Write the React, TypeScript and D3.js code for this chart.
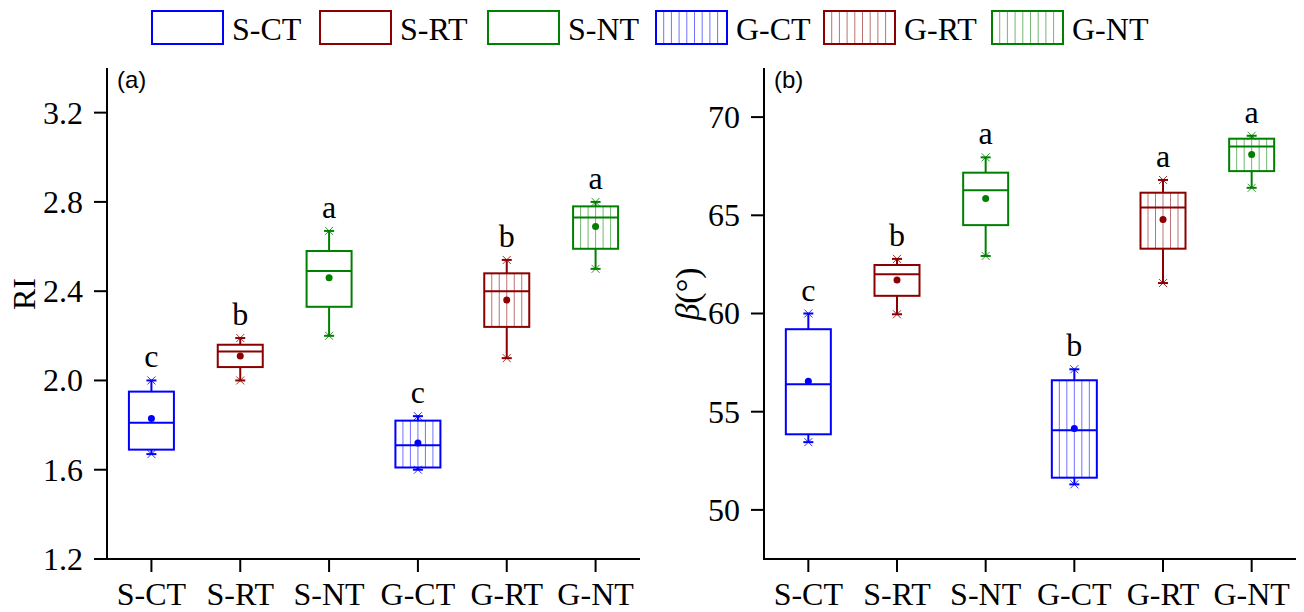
import React from 'react';
import * as d3 from 'd3';

// treatments, shared by both panels
const groups = ['S-CT', 'S-RT', 'S-NT', 'G-CT', 'G-RT', 'G-NT'];
const groupColors = ['#0000FF', '#8B0000', '#008000', '#0000FF', '#8B0000', '#008000'];
const hatched = [false, false, false, true, true, true];

// panel (a): RI  -> [lower whisker, q1, median, q3, upper whisker], mean, letter
const riStats = [
  [1.67, 1.69, 1.81, 1.95, 2.0],
  [2.0, 2.06, 2.13, 2.16, 2.19],
  [2.2, 2.33, 2.49, 2.58, 2.67],
  [1.6, 1.61, 1.71, 1.82, 1.84],
  [2.1, 2.24, 2.4, 2.48, 2.54],
  [2.5, 2.59, 2.73, 2.78, 2.8]
];
const riMeans = [1.83, 2.11, 2.46, 1.72, 2.36, 2.69];
const riLetters = ['c', 'b', 'a', 'c', 'b', 'a'];
const riTicks = [1.2, 1.6, 2.0, 2.4, 2.8, 3.2];

// panel (b): beta (degrees)
const betaStats = [
  [53.45, 53.85, 56.4, 59.2, 60.0],
  [59.96, 60.9, 62.0, 62.47, 62.78],
  [62.93, 64.5, 66.27, 67.17, 67.95],
  [51.3, 51.64, 54.05, 56.6, 57.16],
  [61.55, 63.3, 65.4, 66.15, 66.8],
  [66.4, 67.25, 68.5, 68.9, 69.05]
];
const betaMeans = [56.55, 61.7, 65.85, 54.15, 64.78, 68.1];
const betaLetters = ['c', 'b', 'a', 'b', 'a', 'a'];
const betaTicks = [50, 55, 60, 65, 70];

const serif = '"Liberation Serif", "Times New Roman", serif';
const fontSize = 32;
const boxW = 45;

// vertical hatch lines inside a rectangle
const Hatch = ({ x0, x1, y0, y1, color, step }) => (
  <g stroke={color} strokeWidth={1} opacity={0.55}>
    {d3.range(x0 + step, x1 - 2, step).map((x, i) => (
      <line key={i} x1={x} x2={x} y1={y0} y2={y1} />
    ))}
  </g>
);

const WhiskerEnd = ({ x, y, color }) => (
  <g stroke={color}>
    <line x1={x - 5} x2={x + 5} y1={y} y2={y} strokeWidth={2} />
    <g strokeWidth={1} opacity={0.8}>
      <line x1={x - 4} x2={x + 4} y1={y - 4} y2={y + 4} />
      <line x1={x - 4} x2={x + 4} y1={y + 4} y2={y - 4} />
    </g>
  </g>
);

const Panel = ({ stats, means, letters, ticks, domain, xRange, tag, title, titleX, titleSize, tickFmt }) => {
  const top = 68;
  const bottom = 559;
  const y = d3.scaleLinear().domain(domain).range([bottom, top]);
  const x = d3.scalePoint().domain(groups).range(xRange).padding(0.5);
  const left = xRange[0];

  return (
    <g>
      {/* boxes */}
      {groups.map((g, i) => {
        const [lo, q1, med, q3, hi] = stats[i];
        const cx = x(g);
        const c = groupColors[i];
        return (
          <g key={g}>
            <line x1={cx} x2={cx} y1={y(hi)} y2={y(q3)} stroke={c} strokeWidth={2} />
            <line x1={cx} x2={cx} y1={y(q1)} y2={y(lo)} stroke={c} strokeWidth={2} />
            {hatched[i] && (
              <Hatch x0={cx - boxW / 2} x1={cx + boxW / 2} y0={y(q3)} y1={y(q1)} color={c} step={boxW / 6} />
            )}
            <rect
              x={cx - boxW / 2}
              y={y(q3)}
              width={boxW}
              height={y(q1) - y(q3)}
              fill="none"
              stroke={c}
              strokeWidth={2}
            />
            <line x1={cx - boxW / 2} x2={cx + boxW / 2} y1={y(med)} y2={y(med)} stroke={c} strokeWidth={2} />
            <WhiskerEnd x={cx} y={y(hi)} color={c} />
            <WhiskerEnd x={cx} y={y(lo)} color={c} />
            <circle cx={cx} cy={y(means[i])} r={3.5} fill={c} />
            <text x={cx} y={y(hi) - 13} textAnchor="middle" fontFamily={serif} fontSize={fontSize}>
              {letters[i]}
            </text>
          </g>
        );
      })}

      {/* y axis */}
      <line x1={left} x2={left} y1={top} y2={bottom + 1} stroke="#000" strokeWidth={2} />
      {ticks.map((t) => (
        <g key={t}>
          <line x1={left - 13} x2={left} y1={y(t)} y2={y(t)} stroke="#000" strokeWidth={2} />
          <text
            x={left - 24}
            y={y(t)}
            dy="0.34em"
            textAnchor="end"
            fontFamily={serif}
            fontSize={fontSize}
          >
            {tickFmt(t)}
          </text>
        </g>
      ))}

      {/* x axis */}
      <line x1={left - 1} x2={xRange[1]} y1={bottom} y2={bottom} stroke="#000" strokeWidth={2} />
      {groups.map((g) => (
        <g key={g}>
          <line x1={x(g)} x2={x(g)} y1={bottom} y2={bottom + 13} stroke="#000" strokeWidth={2} />
          <text x={x(g)} y={bottom + 46} textAnchor="middle" fontFamily={serif} fontSize={fontSize}>
            {g}
          </text>
        </g>
      ))}

      <text x={left + 10} y={88} fontFamily='"Liberation Sans", Arial, sans-serif' fontSize={24}>
        {tag}
      </text>
      <text
        transform={`translate(${titleX},294) rotate(-90)`}
        textAnchor="middle"
        fontFamily={serif}
        fontSize={titleSize}
      >
        {title}
      </text>
    </g>
  );
};

const Legend = () => {
  const lx = d3.scalePoint().domain(groups).range([152, 992]);
  return (
    <g>
      {groups.map((g, i) => {
        const x0 = lx(g);
        const c = groupColors[i];
        return (
          <g key={g}>
            {hatched[i] && <Hatch x0={x0} x1={x0 + 71} y0={11} y1={44} color={c} step={7.7} />}
            <rect x={x0} y={11} width={71} height={33} fill="none" stroke={c} strokeWidth={2} />
            <text x={x0 + 80} y={40} fontFamily={serif} fontSize={fontSize}>
              {g}
            </text>
          </g>
        );
      })}
    </g>
  );
};

const App = () => (
  <svg
    width={1304}
    height={612}
    style={{ position: 'absolute', left: 0, top: 0, background: '#fff' }}
  >
    <Legend />
    <Panel
      stats={riStats}
      means={riMeans}
      letters={riLetters}
      ticks={riTicks}
      domain={[1.2, 3.4]}
      xRange={[107, 640]}
      tag="(a)"
      title="RI"
      titleX={35}
      titleSize={32}
      tickFmt={d3.format('.1f')}
    />
    <Panel
      stats={betaStats}
      means={betaMeans}
      letters={betaLetters}
      ticks={betaTicks}
      domain={[47.5, 72.5]}
      xRange={[764, 1296]}
      tag="(b)"
      title={
        <>
          <tspan fontStyle="italic">β</tspan>(°)
        </>
      }
      titleX={699}
      titleSize={34}
      tickFmt={d3.format('d')}
    />
  </svg>
);

export default App;
